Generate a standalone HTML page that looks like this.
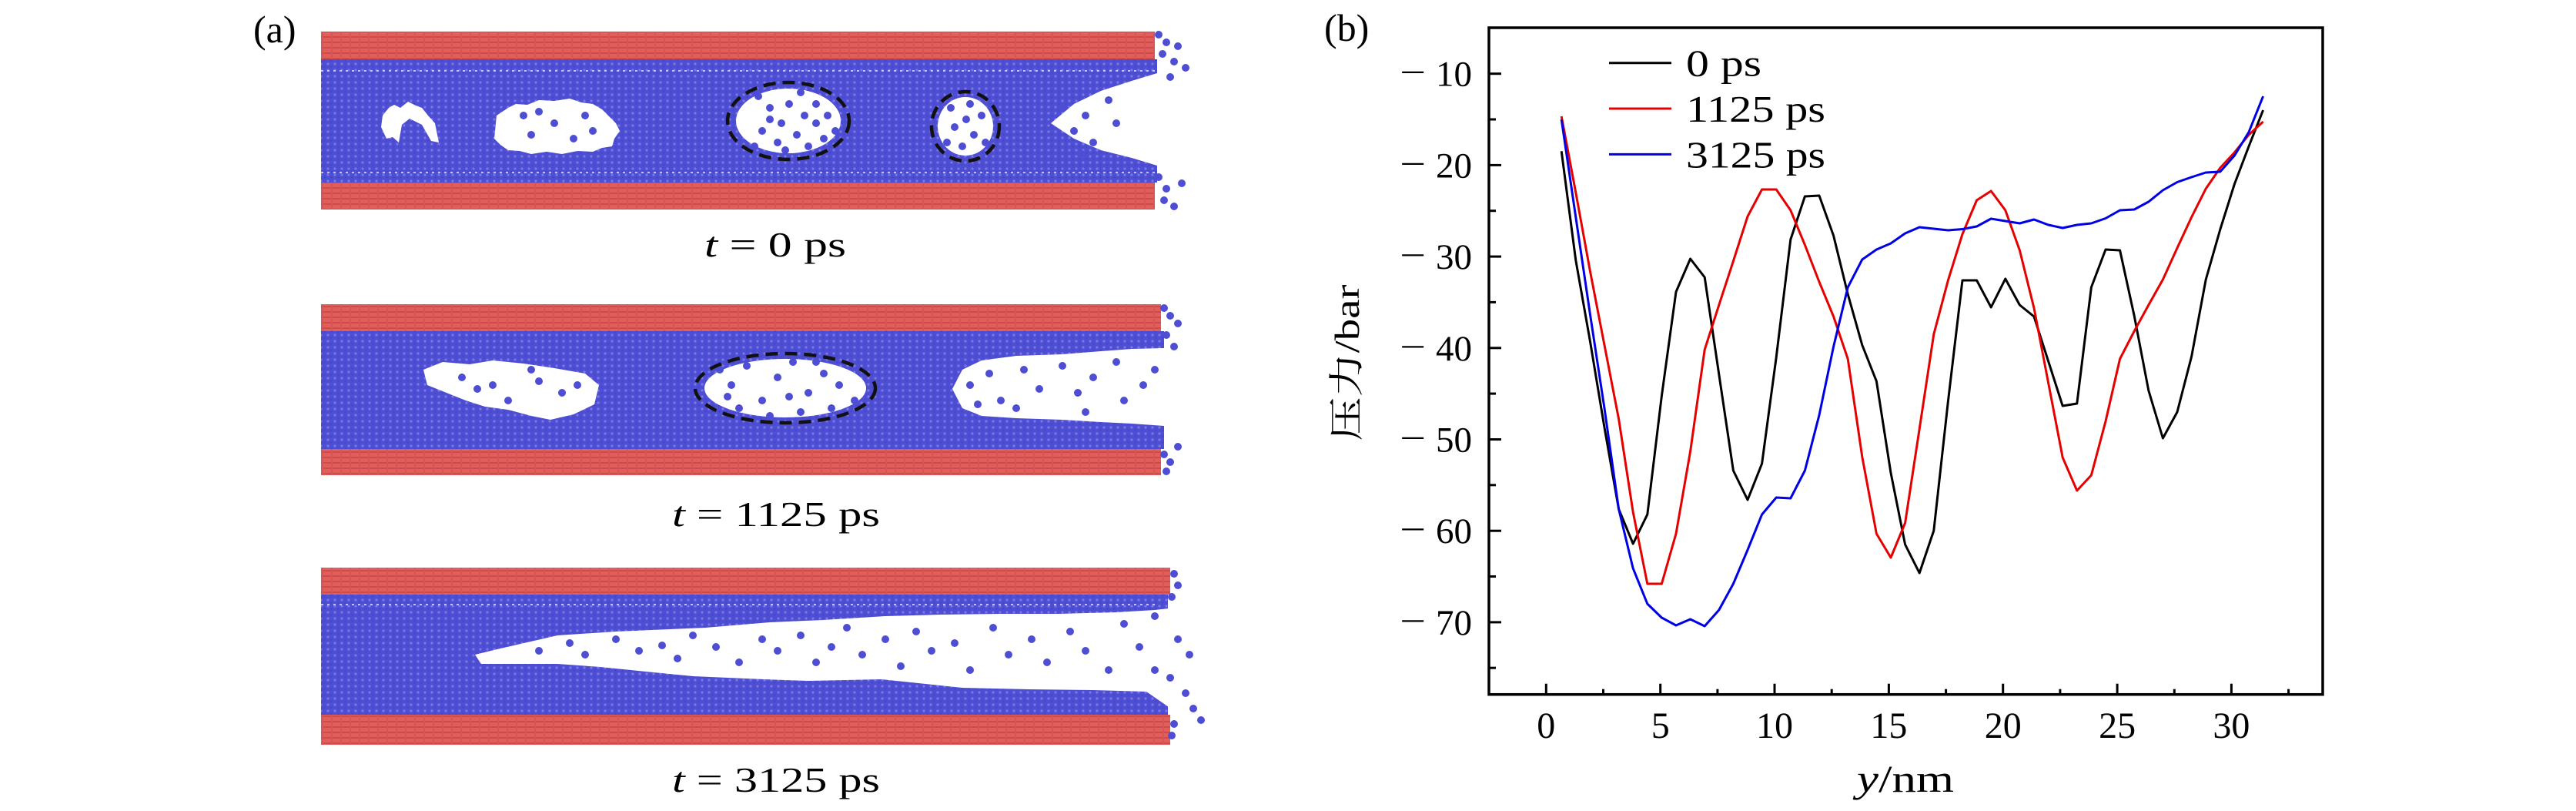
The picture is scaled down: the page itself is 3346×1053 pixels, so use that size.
<!DOCTYPE html>
<html>
<head>
<meta charset="utf-8">
<style>
  html,body{margin:0;padding:0;background:#fff;}
  svg{display:block;}
  text{font-family:"Liberation Serif","Noto Serif CJK SC",serif;fill:#000;}
</style>
</head>
<body>
<svg width="3346" height="1053" viewBox="0 0 3346 1053" xmlns="http://www.w3.org/2000/svg">
  <defs>
    <pattern id="rp" width="12" height="7" patternUnits="userSpaceOnUse">
      <rect width="12" height="7" fill="#e25e5b"/>
      <rect y="5" width="12" height="2" fill="#cc4c4c"/>
      <rect x="10" width="2" height="7" fill="#d85555"/>
    </pattern>
    <pattern id="bp" width="9" height="8" patternUnits="userSpaceOnUse">
      <rect width="9" height="8" fill="#4e4ed4"/>
      <circle cx="3" cy="3" r="1.6" fill="#7a7ae2"/>
      <circle cx="7.5" cy="6.5" r="1" fill="#4040c8"/>
    </pattern>
  </defs>
  <rect width="3346" height="1053" fill="#fff"/>

  <!-- ================= Panel (a) ================= -->
  <text x="329" y="55" font-size="50">(a)</text>

  <!-- Panel 1: t = 0 ps -->
  <g>
    <rect x="417" y="77" width="1086" height="160" fill="url(#bp)"/>
    <line x1="417" y1="92" x2="1500" y2="92" stroke="#c6c6f2" stroke-width="2" stroke-dasharray="3 5"/>
    <line x1="417" y1="224" x2="1500" y2="224" stroke="#c6c6f2" stroke-width="2" stroke-dasharray="3 5"/>
    <rect x="417" y="41" width="1083" height="36" fill="url(#rp)"/>
    <rect x="417" y="237" width="1083" height="35" fill="url(#rp)"/>
    <!-- holes -->
    <path d="M497,150 L505,140 L512,136 L520,140 L530,132 L540,137 L548,140 L556,150 L565,160 L570,185 L560,183 L548,162 L540,158 L532,154 L522,162 L518,185 L510,178 L502,180 L495,165 Z" fill="#fff"/>
    <path d="M645,150 L660,140 L670,135 L685,136 L700,130 L720,131 L740,128 L755,133 L770,135 L782,142 L790,150 L800,160 L805,170 L798,180 L795,190 L782,192 L770,197 L750,196 L730,200 L710,197 L690,200 L675,196 L660,195 L650,188 L642,180 Z" fill="#fff"/>
    <ellipse cx="1024" cy="157" rx="68" ry="42" fill="#fff"/>
    <ellipse cx="1254" cy="164" rx="36" ry="38" fill="#fff"/>
    <path d="M1365,160 L1395,135 L1430,118 L1470,105 L1503,95 L1503,215 L1470,205 L1430,195 L1395,180 Z" fill="#fff"/>
    <g fill="#4e4ed4">
      <circle cx="700" cy="145" r="5"/><circle cx="720" cy="160" r="5"/><circle cx="760" cy="150" r="5"/>
      <circle cx="690" cy="175" r="5"/><circle cx="745" cy="180" r="5"/><circle cx="770" cy="170" r="5"/>
      <circle cx="680" cy="150" r="5"/>
      <circle cx="985" cy="125" r="5"/><circle cx="1000" cy="140" r="5"/><circle cx="1040" cy="120" r="5"/>
      <circle cx="1060" cy="135" r="5"/><circle cx="1075" cy="150" r="5"/><circle cx="990" cy="170" r="5"/>
      <circle cx="1010" cy="185" r="5"/><circle cx="1035" cy="175" r="5"/><circle cx="1050" cy="190" r="5"/>
      <circle cx="1070" cy="180" r="5"/><circle cx="1000" cy="155" r="5"/><circle cx="1045" cy="150" r="5"/>
      <circle cx="1025" cy="135" r="5"/><circle cx="980" cy="190" r="5"/><circle cx="1085" cy="170" r="5"/>
      <circle cx="1060" cy="160" r="5"/><circle cx="1020" cy="195" r="5"/><circle cx="1015" cy="160" r="5"/>
      <circle cx="1235" cy="140" r="5"/><circle cx="1260" cy="135" r="5"/><circle cx="1275" cy="150" r="5"/>
      <circle cx="1240" cy="165" r="5"/><circle cx="1265" cy="175" r="5"/><circle cx="1250" cy="190" r="5"/>
      <circle cx="1280" cy="185" r="5"/><circle cx="1230" cy="185" r="5"/><circle cx="1255" cy="155" r="5"/>
      <circle cx="1380" cy="140" r="5"/><circle cx="1395" cy="170" r="5"/><circle cx="1410" cy="150" r="5"/>
      <circle cx="1420" cy="185" r="5"/><circle cx="1440" cy="130" r="5"/><circle cx="1450" cy="160" r="5"/>
      <circle cx="1405" cy="200" r="5"/>
      <circle cx="1505" cy="45" r="5"/><circle cx="1515" cy="55" r="5"/><circle cx="1510" cy="70" r="5"/>
      <circle cx="1525" cy="80" r="5"/><circle cx="1540" cy="88" r="5"/><circle cx="1520" cy="100" r="5"/>
      <circle cx="1530" cy="60" r="5"/><circle cx="1505" cy="230" r="5"/><circle cx="1515" cy="245" r="5"/>
      <circle cx="1512" cy="260" r="5"/><circle cx="1525" cy="268" r="5"/><circle cx="1535" cy="238" r="5"/>
    </g>
    <ellipse cx="1024" cy="157" rx="79" ry="50" fill="none" stroke="#111" stroke-width="4.5" stroke-dasharray="16 9"/>
    <ellipse cx="1254" cy="164" rx="44" ry="45" fill="none" stroke="#111" stroke-width="4.5" stroke-dasharray="16 9"/>
  </g>
  <text x="1007" y="333" font-size="46" text-anchor="middle" textLength="184" lengthAdjust="spacingAndGlyphs"><tspan font-style="italic">t</tspan> = 0 ps</text>

  <!-- Panel 2: t = 1125 ps -->
  <g>
    <rect x="417" y="430" width="1095" height="153" fill="url(#bp)"/>
    <rect x="417" y="395" width="1091" height="35" fill="url(#rp)"/>
    <rect x="417" y="583" width="1091" height="34" fill="url(#rp)"/>
    <path d="M550,480 L575,470 L610,473 L640,468 L680,472 L720,478 L760,485 L778,500 L772,525 L745,538 L715,545 L690,540 L660,532 L630,528 L605,520 L580,510 L555,500 Z" fill="#fff"/>
    <ellipse cx="1020" cy="504" rx="105" ry="38" fill="#fff"/>
    <path d="M1237,505 L1250,480 L1275,468 L1320,462 L1380,460 L1430,456 L1470,453 L1512,452 L1512,553 L1470,550 L1430,548 L1380,545 L1320,543 L1275,540 L1250,530 Z" fill="#fff"/>
    <g fill="#4e4ed4">
      <circle cx="600" cy="490" r="5"/><circle cx="640" cy="500" r="5"/><circle cx="700" cy="495" r="5"/>
      <circle cx="730" cy="510" r="5"/><circle cx="660" cy="520" r="5"/><circle cx="620" cy="505" r="5"/>
      <circle cx="690" cy="480" r="5"/><circle cx="750" cy="500" r="5"/>
      <circle cx="935" cy="480" r="5"/><circle cx="950" cy="500" r="5"/><circle cx="970" cy="475" r="5"/>
      <circle cx="990" cy="520" r="5"/><circle cx="1010" cy="490" r="5"/><circle cx="1030" cy="470" r="5"/>
      <circle cx="1050" cy="510" r="5"/><circle cx="1070" cy="485" r="5"/><circle cx="1090" cy="500" r="5"/>
      <circle cx="1110" cy="520" r="5"/><circle cx="960" cy="530" r="5"/><circle cx="1000" cy="540" r="5"/>
      <circle cx="1040" cy="535" r="5"/><circle cx="1080" cy="530" r="5"/><circle cx="1115" cy="480" r="5"/>
      <circle cx="945" cy="515" r="5"/><circle cx="1025" cy="515" r="5"/><circle cx="1060" cy="470" r="5"/>
      <circle cx="1260" cy="500" r="5"/><circle cx="1285" cy="485" r="5"/><circle cx="1300" cy="520" r="5"/>
      <circle cx="1330" cy="480" r="5"/><circle cx="1350" cy="505" r="5"/><circle cx="1380" cy="475" r="5"/>
      <circle cx="1400" cy="510" r="5"/><circle cx="1420" cy="490" r="5"/><circle cx="1450" cy="470" r="5"/>
      <circle cx="1460" cy="520" r="5"/><circle cx="1485" cy="500" r="5"/><circle cx="1500" cy="480" r="5"/>
      <circle cx="1320" cy="530" r="5"/><circle cx="1270" cy="525" r="5"/><circle cx="1410" cy="535" r="5"/>
      <circle cx="1512" cy="400" r="5"/><circle cx="1520" cy="410" r="5"/><circle cx="1530" cy="420" r="5"/>
      <circle cx="1515" cy="435" r="5"/><circle cx="1525" cy="450" r="5"/><circle cx="1512" cy="590" r="5"/>
      <circle cx="1520" cy="600" r="5"/><circle cx="1515" cy="612" r="5"/><circle cx="1530" cy="580" r="5"/>
    </g>
    <ellipse cx="1020" cy="504" rx="117" ry="45" fill="none" stroke="#111" stroke-width="4.5" stroke-dasharray="16 9"/>
  </g>
  <text x="1008" y="683" font-size="46" text-anchor="middle" textLength="270" lengthAdjust="spacingAndGlyphs"><tspan font-style="italic">t</tspan> = 1125 ps</text>

  <!-- Panel 3: t = 3125 ps -->
  <g>
    <rect x="417" y="772" width="1100" height="156" fill="url(#bp)"/>
    <line x1="417" y1="785" x2="1500" y2="785" stroke="#c6c6f2" stroke-width="2" stroke-dasharray="3 5"/>
    <rect x="417" y="737" width="1103" height="35" fill="url(#rp)"/>
    <rect x="417" y="928" width="1103" height="39" fill="url(#rp)"/>
    <path d="M617,850 L650,842 L724,825 L800,820 L916,815 L1000,808 L1069,805 L1150,800 L1222,798 L1300,797 L1375,797 L1450,795 L1500,792 L1518,790 L1518,918 L1489,898 L1420,896 L1336,895 L1250,893 L1145,882 L1050,884 L992,882 L900,878 L839,872 L780,866 L724,862 L680,862 L625,862 Z" fill="#fff"/>
    <g fill="#4e4ed4">
      <circle cx="700" cy="845" r="5"/><circle cx="740" cy="835" r="5"/><circle cx="760" cy="850" r="5"/>
      <circle cx="800" cy="830" r="5"/><circle cx="830" cy="845" r="5"/><circle cx="860" cy="838" r="5"/>
      <circle cx="880" cy="855" r="5"/><circle cx="900" cy="825" r="5"/><circle cx="930" cy="840" r="5"/>
      <circle cx="960" cy="860" r="5"/><circle cx="990" cy="830" r="5"/><circle cx="1010" cy="845" r="5"/>
      <circle cx="1040" cy="825" r="5"/><circle cx="1060" cy="860" r="5"/><circle cx="1080" cy="840" r="5"/>
      <circle cx="1100" cy="815" r="5"/><circle cx="1120" cy="850" r="5"/><circle cx="1150" cy="830" r="5"/>
      <circle cx="1170" cy="865" r="5"/><circle cx="1190" cy="820" r="5"/><circle cx="1210" cy="845" r="5"/>
      <circle cx="1240" cy="835" r="5"/><circle cx="1260" cy="870" r="5"/><circle cx="1290" cy="815" r="5"/>
      <circle cx="1310" cy="850" r="5"/><circle cx="1340" cy="830" r="5"/><circle cx="1360" cy="860" r="5"/>
      <circle cx="1390" cy="820" r="5"/><circle cx="1410" cy="845" r="5"/><circle cx="1440" cy="870" r="5"/>
      <circle cx="1460" cy="810" r="5"/><circle cx="1480" cy="840" r="5"/><circle cx="1500" cy="870" r="5"/>
      <circle cx="1530" cy="830" r="5"/><circle cx="1545" cy="850" r="5"/><circle cx="1500" cy="800" r="5"/>
      <circle cx="1520" cy="880" r="5"/><circle cx="1540" cy="900" r="5"/><circle cx="1550" cy="920" r="5"/>
      <circle cx="1525" cy="745" r="5"/><circle cx="1530" cy="760" r="5"/><circle cx="1522" cy="775" r="5"/>
      <circle cx="1525" cy="940" r="5"/><circle cx="1522" cy="955" r="5"/><circle cx="1560" cy="935" r="5"/>
    </g>
  </g>
  <text x="1008" y="1028" font-size="46" text-anchor="middle" textLength="270" lengthAdjust="spacingAndGlyphs"><tspan font-style="italic">t</tspan> = 3125 ps</text>

  <!-- ================= Panel (b) ================= -->
  <text x="1720" y="53" font-size="50">(b)</text>

  <!-- data -->
  <g fill="none" stroke-width="3" stroke-linejoin="round">
    <polyline stroke="#000" points="2028.2,196.3 2046.8,338 2065.4,443 2084,555 2102.6,661 2121.2,706 2139.8,668 2158.4,514 2177,379 2195.6,336 2214.2,360 2232.8,486 2251.4,611 2270,649 2288.6,602 2307.2,464 2325.8,311 2344.4,255 2363,254 2381.6,306 2400.2,382 2418.8,448 2437.4,495 2456,614 2474.6,707 2493.2,744 2511.8,689 2530.4,521 2549,364 2567.6,364 2586.2,399 2604.8,362 2623.4,396 2642,411 2660.6,469 2679.2,527 2697.8,524 2716.4,373 2735,324 2753.6,325 2772.2,410 2790.8,507 2809.4,569 2828,535 2846.6,463 2865.2,363 2883.8,298 2902.4,239 2921,190 2939.6,143"/>
    <polyline stroke="#e60000" points="2028.2,151 2046.8,250 2065.4,352 2084,448 2102.6,544 2121.2,665 2139.8,758 2158.4,758 2177,693 2195.6,586 2214.2,454 2232.8,396 2251.4,339 2270,281 2288.6,246 2307.2,246 2325.8,273 2344.4,318 2363,366 2381.6,411 2400.2,466 2418.8,593 2437.4,693 2456,724 2474.6,679 2493.2,557 2511.8,434 2530.4,364 2549,304 2567.6,260 2586.2,248 2604.8,273 2623.4,325 2642,400 2660.6,497 2679.2,594 2697.8,637 2716.4,617 2735,547 2753.6,466 2772.2,430 2790.8,396 2809.4,363 2828,322 2846.6,282 2865.2,245 2883.8,218 2902.4,198 2921,175 2939.6,158"/>
    <polyline stroke="#0000e6" points="2028.2,155 2046.8,282 2065.4,408 2084,530 2102.6,661 2121.2,738 2139.8,784 2158.4,802 2177,812 2195.6,804 2214.2,813 2232.8,792 2251.4,758 2270,714 2288.6,668 2307.2,646 2325.8,647 2344.4,611 2363,539 2381.6,450 2400.2,373 2418.8,337 2437.4,324 2456,316 2474.6,303 2493.2,295 2511.8,297 2530.4,299 2549,297.5 2567.6,294 2586.2,284 2604.8,287 2623.4,290 2642,285 2660.6,292 2679.2,296 2697.8,292 2716.4,290 2735,283.5 2753.6,273 2772.2,272 2790.8,262 2809.4,247 2828,236.5 2846.6,230 2865.2,224 2883.8,223 2902.4,202 2921,171.5 2939.6,125"/>
  </g>

  <!-- axes frame -->
  <rect x="1934" y="36" width="1083" height="865.7" fill="none" stroke="#000" stroke-width="3.5"/>

  <!-- y ticks -->
  <g stroke="#000" stroke-width="3">
    <line x1="1934" y1="95.7" x2="1950" y2="95.7"/>
    <line x1="1934" y1="214.4" x2="1950" y2="214.4"/>
    <line x1="1934" y1="333.1" x2="1950" y2="333.1"/>
    <line x1="1934" y1="451.8" x2="1950" y2="451.8"/>
    <line x1="1934" y1="570.5" x2="1950" y2="570.5"/>
    <line x1="1934" y1="689.2" x2="1950" y2="689.2"/>
    <line x1="1934" y1="807.9" x2="1950" y2="807.9"/>
    <line x1="1934" y1="155" x2="1943" y2="155"/>
    <line x1="1934" y1="273.7" x2="1943" y2="273.7"/>
    <line x1="1934" y1="392.4" x2="1943" y2="392.4"/>
    <line x1="1934" y1="511.1" x2="1943" y2="511.1"/>
    <line x1="1934" y1="629.8" x2="1943" y2="629.8"/>
    <line x1="1934" y1="748.5" x2="1943" y2="748.5"/>
    <line x1="1934" y1="867.2" x2="1943" y2="867.2"/>
  </g>
  <!-- x ticks -->
  <g stroke="#000" stroke-width="3">
    <line x1="2008.3" y1="901.7" x2="2008.3" y2="887.7"/>
    <line x1="2156.7" y1="901.7" x2="2156.7" y2="887.7"/>
    <line x1="2305" y1="901.7" x2="2305" y2="887.7"/>
    <line x1="2453.4" y1="901.7" x2="2453.4" y2="887.7"/>
    <line x1="2601.7" y1="901.7" x2="2601.7" y2="887.7"/>
    <line x1="2750.1" y1="901.7" x2="2750.1" y2="887.7"/>
    <line x1="2898.4" y1="901.7" x2="2898.4" y2="887.7"/>
    <line x1="2082.5" y1="901.7" x2="2082.5" y2="894.7"/>
    <line x1="2230.9" y1="901.7" x2="2230.9" y2="894.7"/>
    <line x1="2379.2" y1="901.7" x2="2379.2" y2="894.7"/>
    <line x1="2527.6" y1="901.7" x2="2527.6" y2="894.7"/>
    <line x1="2675.9" y1="901.7" x2="2675.9" y2="894.7"/>
    <line x1="2824.3" y1="901.7" x2="2824.3" y2="894.7"/>
    <line x1="2972.6" y1="901.7" x2="2972.6" y2="894.7"/>
  </g>

  <!-- y tick labels -->
  <g font-size="47">
    <text x="1912" y="111.7" text-anchor="end">10</text>
    <text x="1912" y="230.4" text-anchor="end">20</text>
    <text x="1912" y="349.1" text-anchor="end">30</text>
    <text x="1912" y="467.8" text-anchor="end">40</text>
    <text x="1912" y="586.5" text-anchor="end">50</text>
    <text x="1912" y="705.2" text-anchor="end">60</text>
    <text x="1912" y="823.9" text-anchor="end">70</text>
    <text x="1818" y="109.7" textLength="34" lengthAdjust="spacingAndGlyphs">−</text>
    <text x="1818" y="228.4" textLength="34" lengthAdjust="spacingAndGlyphs">−</text>
    <text x="1818" y="347.1" textLength="34" lengthAdjust="spacingAndGlyphs">−</text>
    <text x="1818" y="465.8" textLength="34" lengthAdjust="spacingAndGlyphs">−</text>
    <text x="1818" y="584.5" textLength="34" lengthAdjust="spacingAndGlyphs">−</text>
    <text x="1818" y="703.2" textLength="34" lengthAdjust="spacingAndGlyphs">−</text>
    <text x="1818" y="821.9" textLength="34" lengthAdjust="spacingAndGlyphs">−</text>
  </g>

  <!-- x tick labels -->
  <g font-size="48" text-anchor="middle">
    <text x="2008.3" y="958">0</text>
    <text x="2156.7" y="958">5</text>
    <text x="2305" y="958">10</text>
    <text x="2453.4" y="958">15</text>
    <text x="2601.7" y="958">20</text>
    <text x="2750.1" y="958">25</text>
    <text x="2898.4" y="958">30</text>
  </g>

  <!-- axis titles -->
  <text x="2475" y="1028" font-size="50" text-anchor="middle" textLength="126" lengthAdjust="spacingAndGlyphs"><tspan font-style="italic">y</tspan>/nm</text>
  <text transform="translate(1765,471) rotate(-90)" font-size="46" text-anchor="middle" textLength="203" lengthAdjust="spacingAndGlyphs">压力/bar</text>

  <!-- legend -->
  <g stroke-width="3">
    <line x1="2090" y1="81.7" x2="2171" y2="81.7" stroke="#000"/>
    <line x1="2090" y1="141" x2="2171" y2="141" stroke="#e60000"/>
    <line x1="2090" y1="200.4" x2="2171" y2="200.4" stroke="#0000e6"/>
  </g>
  <g font-size="49">
    <text x="2190" y="98.7" textLength="98" lengthAdjust="spacingAndGlyphs">0 ps</text>
    <text x="2190" y="158" textLength="181" lengthAdjust="spacingAndGlyphs">1125 ps</text>
    <text x="2190" y="217.4" textLength="181" lengthAdjust="spacingAndGlyphs">3125 ps</text>
  </g>
</svg>
</body>
</html>
